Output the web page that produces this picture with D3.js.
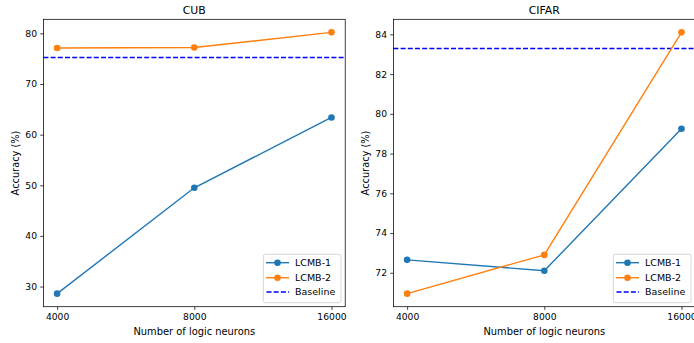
<!DOCTYPE html>
<html><head><meta charset="utf-8">
<script src="https://cdn.jsdelivr.net/npm/d3@7"></script>
<style>body{margin:0;background:#fff;}svg{display:block;font-family:"DejaVu Sans",sans-serif;}</style>
</head><body>
<svg id="chart" width="694" height="343"></svg>
<script>
const neurons = [4000, 8000, 16000];
const xTickLabels = ["4000", "8000", "16000"];
const seriesNames = ["LCMB-1", "LCMB-2", "Baseline"];
const cubLCMB1 = [28.6, 49.5, 63.4];
const cubLCMB2 = [77.1, 77.2, 80.2];
const cubBaseline = 75.38;
const cubYTicks = [30, 40, 50, 60, 70, 80];
const cifarLCMB1 = [72.65, 72.1, 79.25];
const cifarLCMB2 = [70.95, 72.9, 84.1];
const cifarBaseline = 83.33;
const cifarYTicks = [72, 74, 76, 78, 80, 82, 84];

const svg = d3.select("#chart");
const colors = {l1: "#1f77b4", l2: "#ff7f0e", base: "#0000ff"};

function panel(ox, title, s1, s2, base, yTicks) {
  const left = ox + 43.4, right = ox + 345.2, top = 19.3, bottom = 306.7;
  const g = svg.append("g");
  const lx = neurons.map(v => Math.log2(v));
  const x = d3.scaleLinear().domain([lx[0] - 0.1, lx[2] + 0.1]).range([left, right]);
  const all = s1.concat(s2);
  const lo = d3.min(all), hi = d3.max(all), m = (hi - lo) * 0.05;
  const y = d3.scaleLinear().domain([lo - m, hi + m]).range([bottom, top]);
  const xv = v => x(Math.log2(v));

  // axes
  const xa = d3.axisBottom(x).tickValues(lx).tickFormat((d, i) => xTickLabels[i]).tickSizeOuter(0).tickSizeInner(3.2).tickPadding(3.2);
  const gx = g.append("g").attr("transform", `translate(0,${bottom})`).call(xa);
  const ya = d3.axisLeft(y).tickValues(yTicks).tickFormat(d3.format("d")).tickSizeOuter(0).tickSizeInner(3.2).tickPadding(3.2);
  const gy = g.append("g").attr("transform", `translate(${left},0)`).call(ya);
  [gx, gy].forEach(a => {
    a.select(".domain").remove();
    a.selectAll("line").attr("stroke", "#000").attr("stroke-width", 0.75);
    a.selectAll("text").attr("font-size", 9.2).attr("fill", "#000").attr("font-family", "DejaVu Sans");
  });

  // baseline (snapped to pixel grid for a crisp blue)
  const by = Math.round(y(base)) + 0.5;
  g.append("line").attr("x1", left).attr("x2", right).attr("y1", by).attr("y2", by)
    .attr("stroke", colors.base).attr("stroke-width", 1.4).attr("stroke-dasharray", "5,2.2");

  const line = d3.line().x((d, i) => xv(neurons[i])).y(d => y(d));
  [[s1, colors.l1], [s2, colors.l2]].forEach(([s, c]) => {
    g.append("path").datum(s).attr("d", line).attr("fill", "none").attr("stroke", c).attr("stroke-width", 1.4);
    g.selectAll(null).data(s).enter().append("circle")
      .attr("cx", (d, i) => xv(neurons[i])).attr("cy", d => y(d)).attr("r", 3.3).attr("fill", c);
  });

  // frame
  g.append("rect").attr("x", left).attr("y", top).attr("width", right - left).attr("height", bottom - top)
    .attr("fill", "none").attr("stroke", "#000").attr("stroke-width", 0.75);

  // title & labels
  g.append("text").attr("x", (left + right) / 2).attr("y", 13.8).attr("text-anchor", "middle")
    .attr("font-size", 10.9).attr("fill", "#000").text(title);
  g.append("text").attr("x", (left + right) / 2).attr("y", 334.5).attr("text-anchor", "middle")
    .attr("font-size", 9.9).attr("fill", "#000").text("Number of logic neurons");
  g.append("text").attr("transform", `translate(${ox + 18.8},${(top + bottom) / 2}) rotate(-90)`)
    .attr("text-anchor", "middle").attr("font-size", 9.8).attr("fill", "#000").text("Accuracy (%)");

  // legend
  const lg = g.append("g").attr("transform", `translate(${ox + 263.3},254.3)`);
  lg.append("rect").attr("width", 77.7).attr("height", 48.4).attr("rx", 2).attr("fill", "#fff").attr("fill-opacity", 0.8)
    .attr("stroke", "#ccc").attr("stroke-width", 0.8);
  const rows = [8.4, 23.4, 37.7];
  const sc = [colors.l1, colors.l2, colors.base];
  seriesNames.forEach((n, i) => {
    const ln = lg.append("line").attr("x1", 2.7).attr("x2", 25.7).attr("y1", rows[i]).attr("y2", rows[i])
      .attr("stroke", sc[i]).attr("stroke-width", 1.4);
    if (i < 2) lg.append("circle").attr("cx", 14.2).attr("cy", rows[i]).attr("r", 3.3).attr("fill", sc[i]);
    else ln.attr("stroke-dasharray", "5,2.2").attr("x1", 3.2);
    lg.append("text").attr("x", 31.7).attr("y", rows[i]).attr("dy", "0.35em").attr("font-size", 9.5)
      .attr("fill", "#000").text(n);
  });
}

panel(0, "CUB", cubLCMB1, cubLCMB2, cubBaseline, cubYTicks);
panel(350, "CIFAR", cifarLCMB1, cifarLCMB2, cifarBaseline, cifarYTicks);
</script>
</body></html>
